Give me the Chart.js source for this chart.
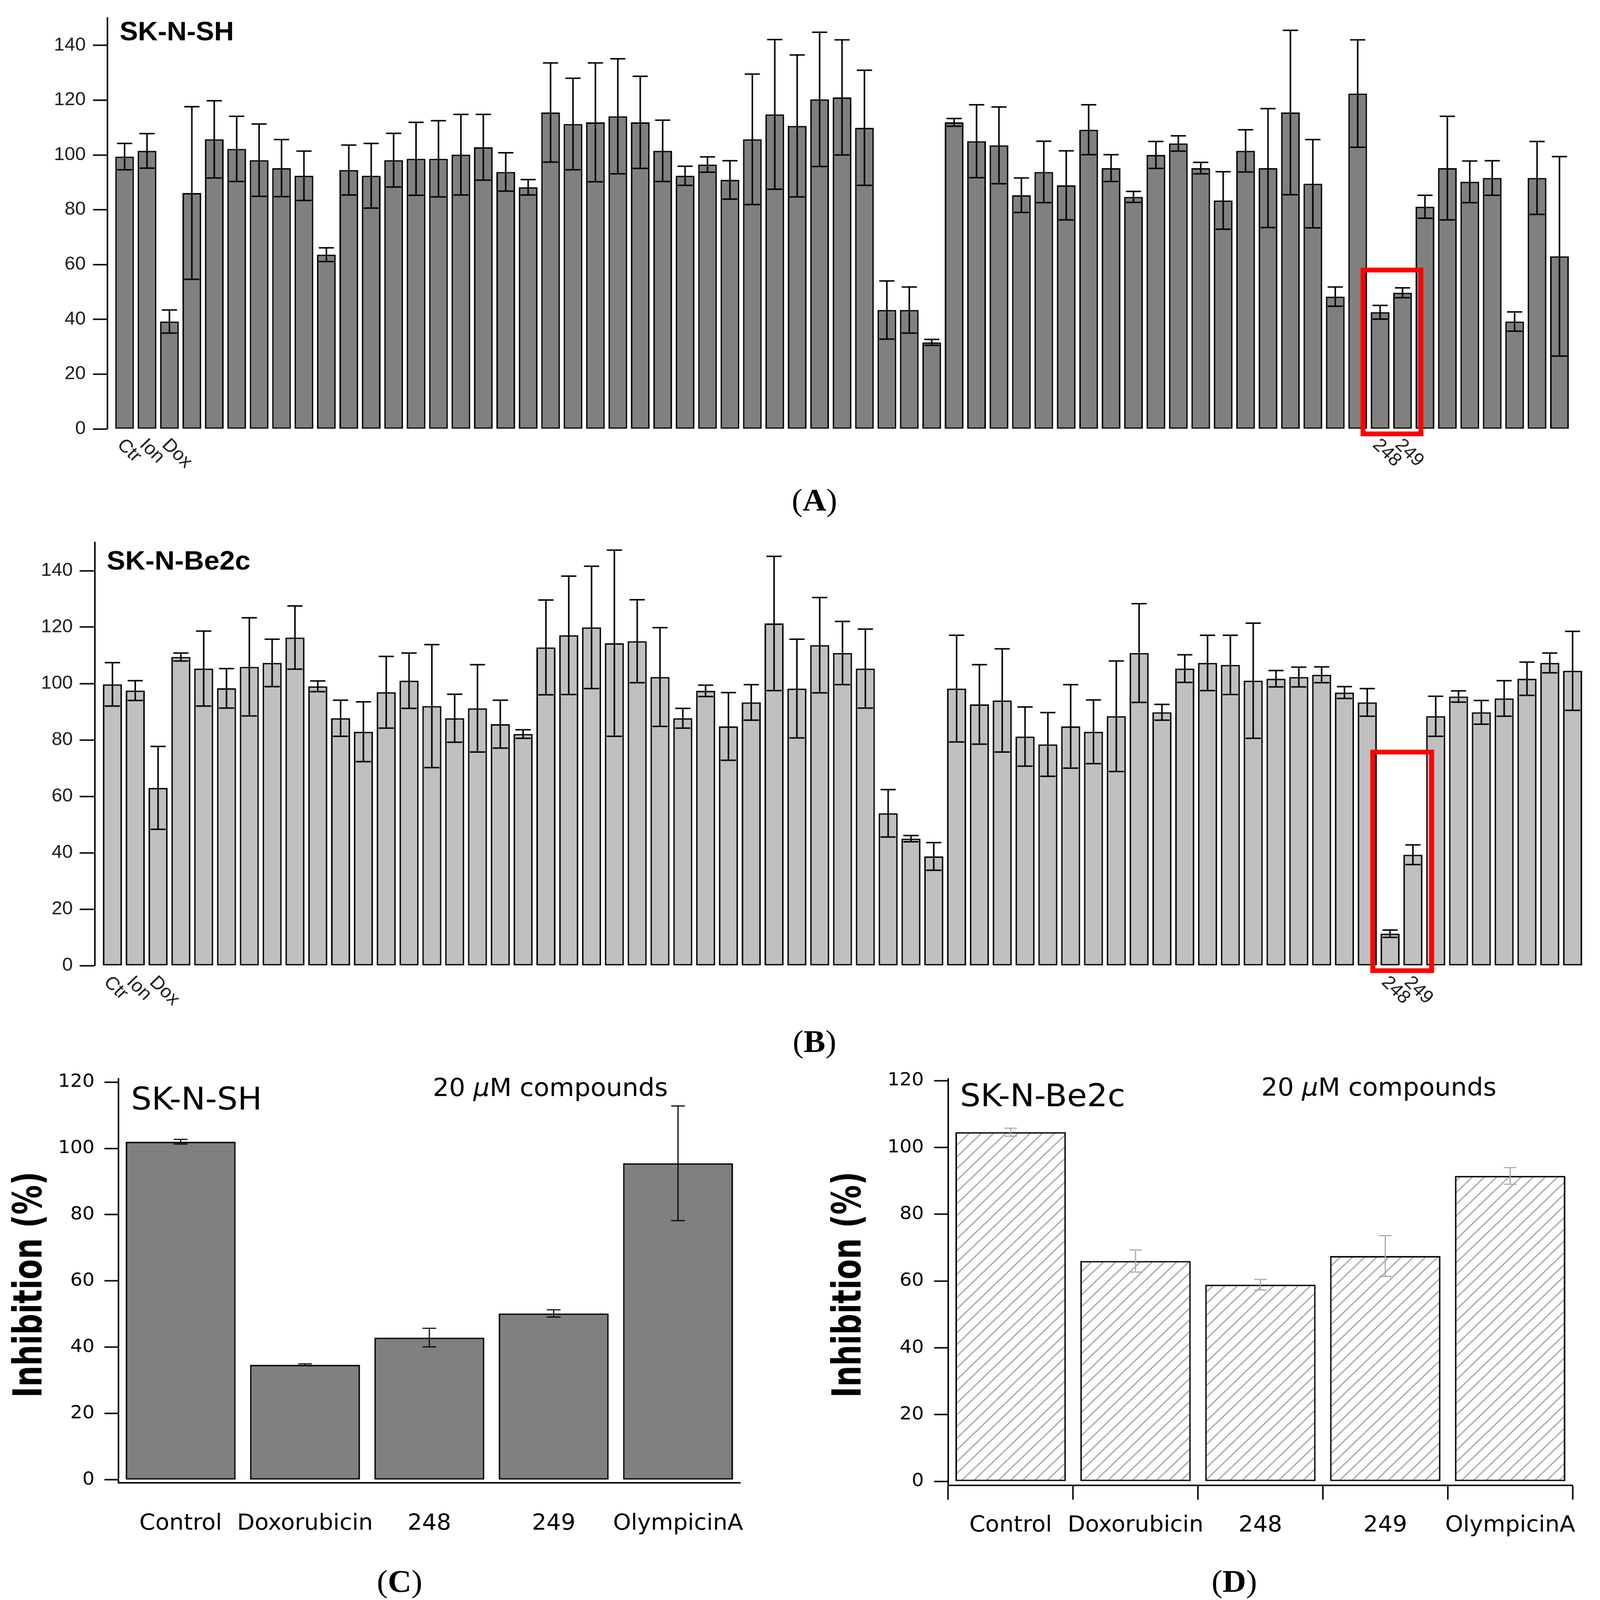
<!DOCTYPE html>
<html><head><meta charset="utf-8">
<script src="https://cdn.jsdelivr.net/npm/chart.js@4"></script>
<style>
html,body{margin:0;padding:0;background:#fff;overflow:hidden;}
#page{position:absolute;left:0;top:0;width:4200px;height:4368px;overflow:hidden;background:#fff;transform-origin:0 0;}
canvas{position:absolute;}
.cap{position:absolute;width:400px;text-align:center;font-family:"Liberation Serif","Times New Roman",serif;font-size:86px;line-height:86px;color:#000;}
</style></head><body><div id="page">
<canvas id="cA" width="4200" height="1330" style="left:0;top:0;width:4200px;height:1330px"></canvas>
<canvas id="cB" width="4200" height="1400" style="left:0;top:1400px;width:4200px;height:1400px"></canvas>
<canvas id="cC" width="2100" height="1400" style="left:0;top:2880px;width:2100px;height:1400px"></canvas>
<canvas id="cD" width="2050" height="1400" style="left:2150px;top:2880px;width:2050px;height:1400px"></canvas>
<div class="cap" style="left:1938px;top:1322px">(<b>A</b>)</div>
<div class="cap" style="left:1938px;top:2800px">(<b>B</b>)</div>
<div class="cap" style="left:849px;top:4274px">(<b>C</b>)</div>
<div class="cap" style="left:3040px;top:4274px">(<b>D</b>)</div>
</div>
<script>
// ---------------- DATA ----------------
const valuesA = [99.4, 101.5, 39.2, 86.1, 105.7, 102.2, 98.1, 95.2, 92.4, 63.6,
 94.5, 92.4, 98.1, 98.6, 98.6, 100.1, 102.8, 93.8, 88.2, 115.5,
 111.3, 111.9, 114.1, 111.9, 101.5, 92.4, 96.5, 90.9, 105.7, 114.8,
 110.6, 120.3, 121.0, 109.9, 43.4, 43.4, 31.6, 111.9, 105.0, 103.5,
 85.3, 93.8, 88.9, 109.2, 95.2, 84.7, 100.0, 104.2, 95.2, 83.4,
 101.5, 95.2, 115.5, 89.5, 48.3, 122.4, 42.6, 49.7, 81.1, 95.2,
 90.2, 91.6, 39.2, 91.6, 63.0];
const errorsA = [4.8, 6.3, 4.2, 31.5, 14.1, 11.9, 13.2, 10.4, 9.0, 2.5,
 9.1, 11.8, 9.8, 13.3, 13.9, 14.7, 12.0, 7.0, 2.8, 18.1,
 16.7, 21.7, 21.0, 16.8, 11.2, 3.5, 2.8, 7.0, 23.8, 27.3,
 25.9, 24.5, 21.0, 21.0, 10.6, 8.4, 1.1, 1.4, 13.3, 14.0,
 6.3, 11.2, 12.6, 9.1, 4.9, 2.0, 4.9, 2.8, 2.1, 10.5,
 7.7, 21.7, 30.0, 16.1, 3.5, 19.6, 2.5, 1.8, 4.2, 18.9,
 7.6, 6.3, 3.5, 13.3, 36.4];
const valuesB = [99.7, 97.5, 63.0, 109.4, 105.3, 98.3, 105.9, 107.3, 116.3, 99.0,
 87.7, 82.9, 96.9, 101.0, 92.0, 87.7, 91.2, 85.6, 82.1, 112.8,
 117.1, 119.9, 114.3, 115.0, 102.3, 87.7, 97.4, 84.8, 93.3, 121.3,
 98.2, 113.6, 110.8, 105.3, 54.0, 45.0, 38.7, 98.2, 92.6, 94.0,
 81.2, 78.4, 84.8, 82.9, 88.4, 110.8, 89.8, 105.3, 107.3, 106.6,
 101.0, 101.7, 102.3, 103.1, 96.8, 93.3, 11.3, 39.3, 88.4, 95.4,
 89.8, 94.7, 101.7, 107.3, 104.5];
const errorsB = [7.7, 3.5, 14.7, 1.4, 13.3, 7.0, 17.4, 8.4, 11.2, 1.9,
 6.4, 10.6, 12.7, 9.8, 21.8, 8.5, 15.5, 8.5, 1.5, 16.8,
 21.0, 21.7, 33.0, 14.7, 17.5, 3.5, 2.0, 12.0, 6.3, 23.8,
 17.5, 16.9, 11.2, 14.0, 8.4, 1.1, 4.9, 18.9, 14.1, 18.3,
 10.5, 11.3, 14.8, 11.3, 19.6, 17.5, 2.8, 4.9, 9.8, 10.5,
 20.4, 2.9, 3.5, 2.8, 2.1, 4.9, 1.3, 3.5, 7.1, 2.0,
 4.2, 6.3, 5.9, 3.5, 14.0];
const screenLabelIdx = [0, 1, 2, 56, 57];
const screenLabelText = ['Ctr', 'Ion', 'Dox', '248', '249'];
const highlightIdx = [56, 57];
const highlightTopA = 58;
const highlightTopB = 75.7;
const yTicksScreen = [0, 20, 40, 60, 80, 100, 120, 140];

const categoriesCD = ['Control', 'Doxorubicin', '248', '249', 'OlympicinA'];
const valuesC = [102.0, 34.7, 42.9, 50.2, 95.5];
const errorsC = [0.7, 0.3, 2.8, 1.1, 17.3];
const valuesD = [104.6, 66.0, 58.9, 67.5, 91.5];
const errorsD = [1.2, 3.3, 1.6, 6.1, 2.5];
const yTicksCD = [0, 20, 40, 60, 80, 100, 120];

// fit the 4200x4368 page into the actual viewport
(function fit() {
  const sx = window.innerWidth / 4200, sy = window.innerHeight / 4368;
  const pg = document.getElementById('page');
  if (Math.abs(sx - 1) > 0.002 || Math.abs(sy - 1) > 0.002) {
    pg.style.transform = 'scale(' + sx + ',' + sy + ')';
  }
})();

// ---------------- HELPERS ----------------
function errorBarPlugin(errs, capW, lw, color) {
  return {
    id: 'errbars',
    afterDatasetsDraw(chart) {
      const ctx = chart.ctx, ys = chart.scales.y;
      const meta = chart.getDatasetMeta(0);
      const vals = chart.data.datasets[0].data;
      ctx.save();
      ctx.strokeStyle = color; ctx.lineWidth = lw; ctx.lineCap = 'butt';
      meta.data.forEach((bar, i) => {
        const raw = vals[i];
        const v = (typeof raw === 'object') ? raw.y : raw;
        const e = errs[i];
        const x = bar.x;
        const yt = ys.getPixelForValue(v + e), yb = ys.getPixelForValue(v - e);
        ctx.beginPath();
        ctx.moveTo(x, yt); ctx.lineTo(x, yb);
        ctx.moveTo(x - capW / 2, yt); ctx.lineTo(x + capW / 2, yt);
        ctx.moveTo(x - capW / 2, yb); ctx.lineTo(x + capW / 2, yb);
        ctx.stroke();
      });
      ctx.restore();
    }
  };
}

function screenDecor(title, titleFont, tx, ty, dx, dy, boxTop) {
  return {
    id: 'decor',
    afterDraw(chart) {
      const ctx = chart.ctx, xs = chart.scales.x, ys = chart.scales.y;
      ctx.save();
      ctx.fillStyle = '#000';
      ctx.font = titleFont;
      ctx.textAlign = 'left'; ctx.textBaseline = 'alphabetic';
      ctx.fillText(title, tx, ty);
      ctx.font = '50px "Liberation Sans", Arial, sans-serif';
      ctx.fillStyle = '#1a1a1a';
      const y0 = ys.getPixelForValue(0);
      screenLabelIdx.forEach((idx, k) => {
        const x = xs.getPixelForValue(idx);
        ctx.save();
        ctx.translate(x + dx, y0 + dy);
        ctx.rotate(Math.PI / 4);
        ctx.textAlign = 'left'; ctx.textBaseline = 'middle';
        ctx.fillText(screenLabelText[k], 0, 0);
        ctx.restore();
      });
      const xl = xs.getPixelForValue(highlightIdx[0] - 0.76);
      const xr = xs.getPixelForValue(highlightIdx[1] + 0.82);
      const yt = ys.getPixelForValue(boxTop);
      const yb = ys.getPixelForValue(-1.8);
      ctx.strokeStyle = '#ff0000'; ctx.lineWidth = 13;
      ctx.strokeRect(xl, yt, xr - xl, yb - yt);
      ctx.restore();
    }
  };
}

function screenChart(id, values, errors, fill, opts) {
  const el = document.getElementById(id);
  return new Chart(el, {
    type: 'bar',
    data: {
      datasets: [{
        data: values.map((v, i) => ({ x: i, y: v })),
        backgroundColor: fill, borderColor: '#000', borderWidth: 4,
        borderSkipped: false, barPercentage: 0.835, categoryPercentage: 1
      }]
    },
    options: {
      responsive: false, animation: false, devicePixelRatio: 1,
      layout: { padding: { top: opts.top, right: opts.right, left: 0, bottom: 0 } },
      plugins: { legend: { display: false }, tooltip: { enabled: false }, title: { display: false } },
      scales: {
        x: {
          type: 'linear', offset: false, min: opts.xmin, max: 64.5,
          afterBuildTicks(s) { s.ticks = values.map((_, i) => ({ value: i })); },
          ticks: { display: false }, grid: { display: false, offset: false }, border: { display: false },
          afterFit(s) { s.height = opts.xh; s.paddingLeft = 0; s.paddingRight = 0; }
        },
        y: {
          min: 0, max: 150,
          afterBuildTicks(s) { s.ticks = yTicksScreen.map(v => ({ value: v })); },
          ticks: { color: '#1a1a1a', padding: opts.tpad, font: { family: '"Liberation Sans", Arial, sans-serif', size: 50 } },
          grid: { drawOnChartArea: false, drawTicks: true, tickLength: opts.tlen, tickWidth: 4, tickColor: '#000' },
          border: { display: true, width: 4, color: '#000' },
          afterFit(s) { s.width = opts.yw; }
        }
      }
    },
    plugins: [errorBarPlugin(errors, 40, 4, '#000'), opts.decor]
  });
}

screenChart('cA', valuesA, errorsA, '#808080', {
  top: 34, right: 77, xmin: -0.765, xh: 159, tpad: 19, tlen: 38, yw: 282,
  decor: screenDecor('SK-N-SH', 'bold 72px "Liberation Sans", Arial, sans-serif', 314, 110, -12, 36, highlightTopA)
});
screenChart('cB', valuesB, errorsB, '#c0c0c0', {
  top: 81, right: 42, xmin: -0.77, xh: 164, tpad: 18, tlen: 40, yw: 249,
  decor: screenDecor('SK-N-Be2c', 'bold 73px "Liberation Sans", Arial, sans-serif', 280, 155, -15, 38, highlightTopB)
});

// ---------------- PANELS C / D ----------------
function cdDecor(title, tx, ty, cx, cy) {
  return {
    id: 'cddecor',
    afterDraw(chart) {
      const ctx = chart.ctx;
      ctx.save();
      ctx.fillStyle = '#000';
      ctx.textBaseline = 'alphabetic'; ctx.textAlign = 'left';
      ctx.font = '85px "DejaVu Sans", sans-serif';
      ctx.fillText(title, tx, ty);
      let x = cx;
      const reg = '67px "DejaVu Sans", sans-serif', ita = 'italic 67px "DejaVu Sans", sans-serif';
      ctx.font = reg; ctx.fillText('20 ', x, cy); x += ctx.measureText('20 ').width;
      ctx.font = ita; ctx.fillText('\u03bc', x, cy); x += ctx.measureText('\u03bc').width;
      ctx.font = reg; ctx.fillText('M compounds', x, cy);
      ctx.save();
      ctx.translate(82, 627);
      ctx.rotate(-Math.PI / 2);
      ctx.scale(0.765, 1);
      ctx.font = 'bold 105px "DejaVu Sans", sans-serif';
      ctx.textAlign = 'center'; ctx.textBaseline = 'middle';
      ctx.fillText('Inhibition (%)', 0, 0);
      ctx.restore();
      ctx.restore();
    }
  };
}

function cdChart(id, values, errors, fill, opts) {
  const el = document.getElementById(id);
  return new Chart(el, {
    type: 'bar',
    data: {
      labels: categoriesCD,
      datasets: [{
        data: values, backgroundColor: fill, borderColor: '#000', borderWidth: 4,
        borderSkipped: false, barPercentage: 0.884, categoryPercentage: 1
      }]
    },
    options: {
      responsive: false, animation: false, devicePixelRatio: 1,
      layout: { padding: { top: 65, right: opts.right, left: 0, bottom: 0 } },
      plugins: { legend: { display: false }, tooltip: { enabled: false } },
      scales: {
        x: {
          type: 'category', offset: true,
          ticks: { color: '#000', padding: opts.xpad, maxRotation: 0, autoSkip: false, font: { family: '"DejaVu Sans", sans-serif', size: 60 } },
          grid: { offset: true, drawOnChartArea: false, drawTicks: opts.xticks, tickLength: 39, tickWidth: 4, tickColor: '#000' },
          border: { display: true, width: 4, color: '#000' },
          afterFit(s) { s.height = opts.xh; s.paddingLeft = 0; s.paddingRight = 0; }
        },
        y: {
          min: opts.ymin, max: opts.ymax,
          afterBuildTicks(s) { s.ticks = yTicksCD.map(v => ({ value: v })); },
          ticks: { color: '#000', padding: opts.tpad, font: { family: '"DejaVu Sans", sans-serif', size: 50 } },
          grid: { drawOnChartArea: false, drawTicks: true, tickLength: 37, tickWidth: 4, tickColor: '#000' },
          border: { display: true, width: 4, color: '#000' },
          afterFit(s) { s.width = opts.yw; }
        }
      }
    },
    plugins: [errorBarPlugin(errors, opts.capW, 3, opts.errColor), opts.decor]
  });
}

cdChart('cC', valuesC, errorsC, '#808080', {
  right: 157, xpad: 76, xticks: false, xh: 232, ymin: -0.9, ymax: 121, tpad: 26, yw: 311,
  capW: 36, errColor: '#000',
  decor: cdDecor('SK-N-SH', 344, 149, 1136, 112)
});

const ctxD = document.getElementById('cD').getContext('2d');
function hatchPattern() {
  const s = 32;
  const t = document.createElement('canvas'); t.width = s; t.height = s;
  const g = t.getContext('2d');
  g.fillStyle = '#fff'; g.fillRect(0, 0, s, s);
  g.strokeStyle = '#ababab'; g.lineWidth = 3.5;
  g.beginPath();
  g.moveTo(0, s); g.lineTo(s, 0);
  g.moveTo(-s / 4, s / 4); g.lineTo(s / 4, -s / 4);
  g.moveTo(s - s / 4, s + s / 4); g.lineTo(s + s / 4, s - s / 4);
  g.stroke();
  return ctxD.createPattern(t, 'repeat');
}
cdChart('cD', valuesD, errorsD, hatchPattern(), {
  right: 72, xpad: 35, xticks: true, xh: 225, ymin: -1.2, ymax: 120.6, tpad: 27, yw: 339,
  capW: 33, errColor: '#a8a8a8',
  decor: cdDecor('SK-N-Be2c', 370, 140, 1161, 111)
});
</script>
</body></html>
